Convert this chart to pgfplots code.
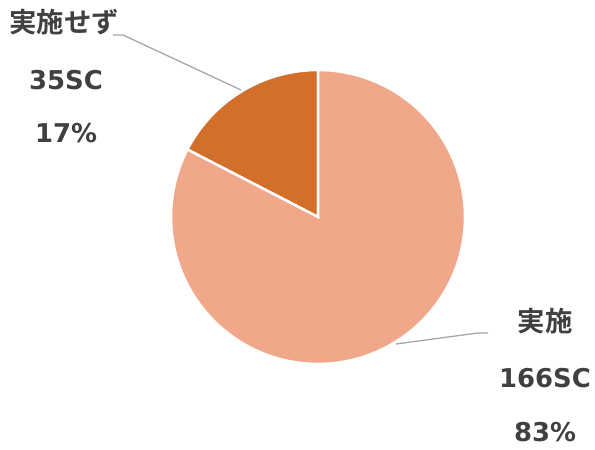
\documentclass[border=0pt]{standalone}
\usepackage{pgfplots}
\usepackage{pgfplotstable}
\pgfplotsset{compat=1.18}
\usepackage{fontspec}
\setmainfont{DejaVu Sans}
\newfontfamily\jp{Noto Sans CJK JP}[BoldFont={Noto Sans CJK JP Bold}]
\definecolor{lite}{HTML}{F1A88A}
\definecolor{dark}{HTML}{D26F2B}
\definecolor{txt}{HTML}{404040}
\definecolor{lead}{HTML}{A6A6A6}

% survey result: value per category
\pgfplotstableread{
label value
done 166
notdone 35
}\piedata
\pgfplotstablegetelem{0}{value}\of\piedata \let\vdone\pgfplotsretval
\pgfplotstablegetelem{1}{value}\of\piedata \let\vnot\pgfplotsretval
\pgfmathsetmacro{\split}{90+360*\vnot/(\vdone+\vnot)}

\begin{document}
\begin{tikzpicture}
\begin{axis}[
  scale only axis, width=595bp, height=450bp,
  xmin=0, xmax=595, ymin=0, ymax=450,
  hide axis, clip=false]
  % wedges, center (318,233), radius 147
  \addplot[fill=dark, draw=white, line width=2.5pt, domain=90:\split, samples=80]
    ({318+147*cos(x)},{233+147*sin(x)}) -- (axis cs:318,233) -- cycle;
  \addplot[fill=lite, draw=white, line width=2.5pt, domain=\split:450, samples=200]
    ({318+147*cos(x)},{233+147*sin(x)}) -- (axis cs:318,233) -- cycle;
  % leader lines
  \draw[lead, line width=1.3pt] (axis cs:113,415) -- (axis cs:123,415) -- (axis cs:241,360);
  \draw[lead, line width=1.3pt] (axis cs:396,106) -- (axis cs:478,117) -- (axis cs:488,117);
  % labels
  \begin{scope}[every node/.style={text=txt, font=\fontsize{26}{30}\selectfont\bfseries}]
    \node at (axis cs:64,428) {\jp\fontsize{27.5}{30}\selectfont\bfseries 実施せず};
    \node at (axis cs:66,370) {35SC};
    \node at (axis cs:66,317) {17\%};
    \node at (axis cs:545,129) {\jp\fontsize{27.5}{30}\selectfont\bfseries 実施};
    \node at (axis cs:545,72) {166SC};
    \node at (axis cs:545,18) {83\%};
  \end{scope}
\end{axis}
\pgfresetboundingbox
\path (current axis.south west) rectangle (current axis.north east);
\end{tikzpicture}
\end{document}
